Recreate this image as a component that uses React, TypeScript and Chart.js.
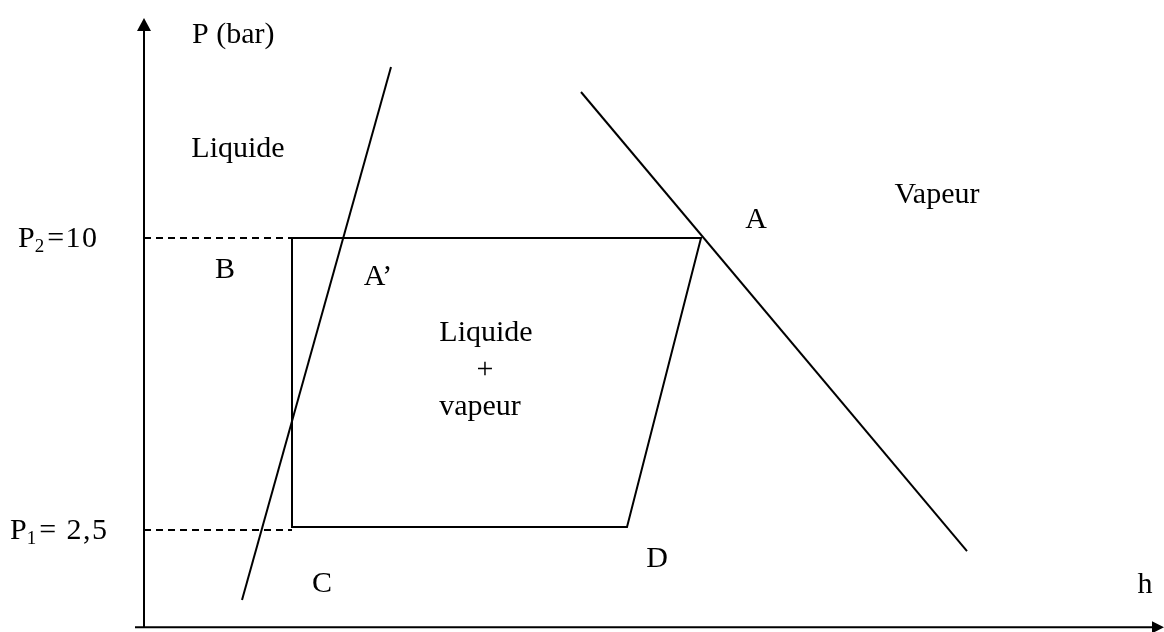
import React, { useEffect, useRef } from "react";
import { Chart, registerables } from "chart.js";

Chart.register(...registerables);

// ---- data (h in arbitrary units, P in bar) ----
const H_LIQUID_LINE = [49, 123.5];
const P_LIQUID_LINE = [0.7, 14.39];

const H_VAPOUR_LINE = [218.5, 411.5];
const P_VAPOUR_LINE = [13.75, 1.96];

const CYCLE_POINTS = ["B", "A", "D", "C"];
const H_CYCLE = [74, 278.5, 241.5, 74];
const P_CYCLE = [10, 10, 2.58, 2.58];

const P_LEVELS = [10, 2.5];
const P_LEVEL_SUB = ["2", "1"];
const P_LEVEL_TEXT = ["=10", "= 2,5"];

const H_AXIS = [-4.5, 504.5];
const P_AXIS = [0, 15.34];
const P_AXIS_TIP = 15.65;
const H_AXIS_TIP = 510;

// ---- annotation layout ----
const LABELS: { t: string; h: number; p: number; align?: CanvasTextAlign }[] = [
  { t: "P (bar)", h: 24, p: 15.01, align: "left" },
  { t: "Liquide", h: 47, p: 12.08 },
  { t: "Vapeur", h: 396.5, p: 10.9 },
  { t: "A", h: 306, p: 10.26 },
  { t: "B", h: 40.5, p: 8.97 },
  { t: "A\u2019", h: 117, p: 8.79 },
  { t: "Liquide", h: 171, p: 7.35 },
  { t: "+", h: 170.5, p: 6.4 },
  { t: "vapeur", h: 168, p: 5.46 },
  { t: "C", h: 89, p: 0.907 },
  { t: "D", h: 256.5, p: 1.55 },
  { t: "h", h: 500.5, p: 0.88 },
];
const TICK_LEFT_PX = [18, 10];
const FONT = '"Liberation Serif", "Times New Roman", serif';

const line = (hs: number[], ps: number[]) => hs.map((h, i) => ({ x: h, y: ps[i] }));

export default function App() {
  const ref = useRef<HTMLCanvasElement>(null);

  useEffect(() => {
    document.body.style.margin = "0";
    const canvas = ref.current!;
    const cycleData = line(
      [...H_CYCLE, H_CYCLE[0]],
      [...P_CYCLE, P_CYCLE[0]]
    );
    const base = {
      showLine: true,
      pointRadius: 0,
      borderColor: "#000",
      borderWidth: 2,
      tension: 0,
      fill: false,
      clip: false as any,
    };
    const datasets: any[] = [
      { ...base, label: "axis P", data: line([0, 0], P_AXIS) },
      { ...base, label: "axis h", data: line(H_AXIS, [0, 0]) },
      { ...base, label: "liquide saturé", data: line(H_LIQUID_LINE, P_LIQUID_LINE) },
      { ...base, label: "vapeur saturée", data: line(H_VAPOUR_LINE, P_VAPOUR_LINE) },
      { ...base, label: "cycle " + CYCLE_POINTS.join(""), data: cycleData },
      ...P_LEVELS.map((p) => ({
        ...base,
        label: "P=" + p,
        borderWidth: 2,
        borderDash: [7, 5],
        data: line([0, H_CYCLE[0]], [p, p]),
      })),
    ];

    const annot = {
      id: "annot",
      afterDatasetsDraw(chart: any) {
        const ctx = chart.ctx as CanvasRenderingContext2D;
        const xs = chart.scales.x;
        const ys = chart.scales.y;
        ctx.save();
        ctx.fillStyle = "#000";
        // arrowheads
        const x0 = xs.getPixelForValue(0);
        const yb = ys.getPixelForValue(P_AXIS[1]);
        const yt = ys.getPixelForValue(P_AXIS_TIP);
        ctx.beginPath();
        ctx.moveTo(x0, yt);
        ctx.lineTo(x0 - 7, yb + 1);
        ctx.lineTo(x0 + 7, yb + 1);
        ctx.closePath();
        ctx.fill();
        const y0 = ys.getPixelForValue(0);
        const xb = xs.getPixelForValue(H_AXIS[1]);
        const xt = xs.getPixelForValue(H_AXIS_TIP);
        ctx.beginPath();
        ctx.moveTo(xt, y0);
        ctx.lineTo(xb - 1, y0 - 6);
        ctx.lineTo(xb - 1, y0 + 6);
        ctx.closePath();
        ctx.fill();
        // labels
        ctx.font = "30px " + FONT;
        ctx.textBaseline = "alphabetic";
        for (const l of LABELS) {
          ctx.textAlign = l.align || "center";
          ctx.fillText(l.t, xs.getPixelForValue(l.h), ys.getPixelForValue(l.p));
        }
        // pressure tick labels
        ctx.textAlign = "left";
        P_LEVELS.forEach((p, i) => {
          const yy = ys.getPixelForValue(p) + 9;
          let x = TICK_LEFT_PX[i];
          ctx.font = "30px " + FONT;
          ctx.fillText("P", x, yy);
          x += ctx.measureText("P").width;
          ctx.font = "19px " + FONT;
          ctx.fillText(P_LEVEL_SUB[i], x, yy + 5);
          x += ctx.measureText(P_LEVEL_SUB[i]).width + 3;
          ctx.font = "30px " + FONT;
          (ctx as any).letterSpacing = "1.5px";
          ctx.fillText(P_LEVEL_TEXT[i], x, yy);
          (ctx as any).letterSpacing = "0px";
        });
        ctx.restore();
      },
    };

    const chart = new Chart(canvas, {
      type: "scatter",
      data: { datasets },
      options: {
        animation: false,
        responsive: false,
        maintainAspectRatio: false,
        layout: { padding: 0 },
        plugins: { legend: { display: false }, tooltip: { enabled: false } },
        scales: {
          x: { type: "linear", display: false, min: -72, max: 510 },
          y: { type: "linear", display: false, min: -0.12, max: 16.113 },
        },
      },
      plugins: [annot],
    });
    return () => chart.destroy();
  }, []);

  return (
    <div style={{ width: 1164, height: 632, background: "#fff" }}>
      <canvas ref={ref} width={1164} height={632} />
    </div>
  );
}
